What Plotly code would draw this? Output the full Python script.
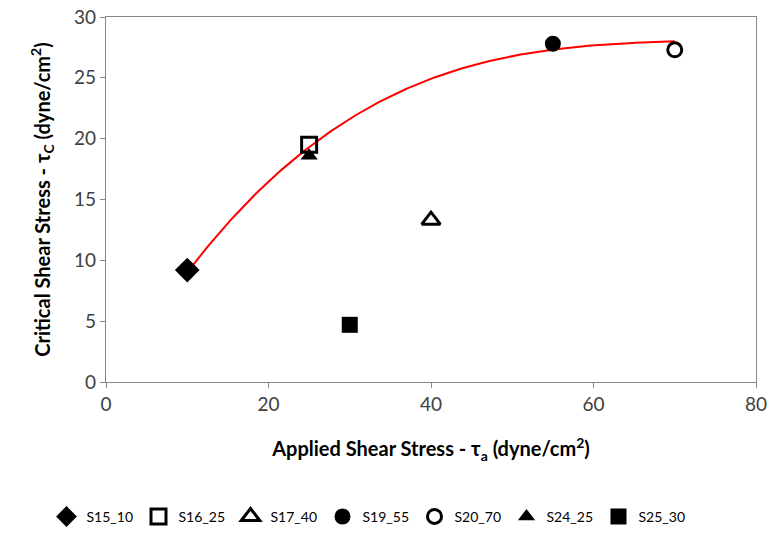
import numpy as np
import plotly.graph_objects as go

# Data
series_names = ["S15_10", "S16_25", "S17_40", "S19_55", "S20_70", "S24_25", "S25_30"]
applied_stress = [10, 25, 40, 55, 70, 25, 30]
critical_stress = [9.2, 19.5, 13.3, 27.8, 27.3, 18.6, 4.7]
symbols = ["diamond", "square-open", "triangle-up-open", "circle", "circle-open", "triangle-up", "square"]
sizes = [19, 15, 16, 16, 14, 15, 16]

# Trendline points
trend_x = [9.5, 16.0, 24.9, 32.5, 40.7, 48.9, 57.1, 65.7, 70.0]
trend_y = [8.5, 13.9, 19.3, 22.5, 25.1, 26.6, 27.55, 27.95, 27.95]

x_ticks = [0, 20, 40, 60, 80]
y_ticks = [0, 5, 10, 15, 20, 25, 30]

FONT = "Lato, 'Open Sans', sans-serif"

fig = go.Figure()

coef = np.polyfit(trend_x, trend_y, 3)
xs = np.linspace(min(trend_x), max(trend_x), 200)
fig.add_trace(go.Scatter(x=xs, y=np.polyval(coef, xs), mode="lines",
                         line=dict(color="#ff0000", width=2), showlegend=False,
                         hoverinfo="skip"))

for name, xv, yv, sym, sz in zip(series_names, applied_stress, critical_stress, symbols, sizes):
    fig.add_trace(go.Scatter(
        x=[xv], y=[yv], mode="markers", name=name,
        marker=dict(symbol=sym, size=sz, color="black",
                    line=dict(color="black", width=3 if "open" in sym else 0)),
    ))

fig.update_layout(
    width=775, height=541,
    margin=dict(l=106, r=19, t=17, b=159, autoexpand=False),
    paper_bgcolor="white", plot_bgcolor="white",
    font=dict(family=FONT, color="#000000", size=16),
    showlegend=True,
    legend=dict(orientation="h", xref="container", yref="container",
                x=0.06, xanchor="left", y=0.015, yanchor="bottom",
                font=dict(size=14, family=FONT), itemwidth=30,
                traceorder="normal", entrywidth=47, tracegroupgap=0),
)

axis_common = dict(showgrid=False, zeroline=False, showline=True, linecolor="#868686",
                   linewidth=1.3, mirror=True, ticks="outside", ticklen=5,
                   tickcolor="#868686", tickfont=dict(size=19, color="#404040", family=FONT))

fig.update_xaxes(range=[0, 80], tickvals=x_ticks,
                 title=dict(text="<b>Applied Shear Stress - τ<sub>a</sub> (dyne/cm<sup>2</sup>)</b>",
                            font=dict(size=20, family=FONT), standoff=28),
                 **axis_common)
fig.update_yaxes(range=[0, 30], tickvals=y_ticks,
                 title=dict(text="<b>Critical Shear Stress - τ<sub>C</sub> (dyne/cm<sup>2</sup>)</b>",
                            font=dict(size=20, family=FONT), standoff=18),
                 **axis_common)

fig.write_html("out.html")
